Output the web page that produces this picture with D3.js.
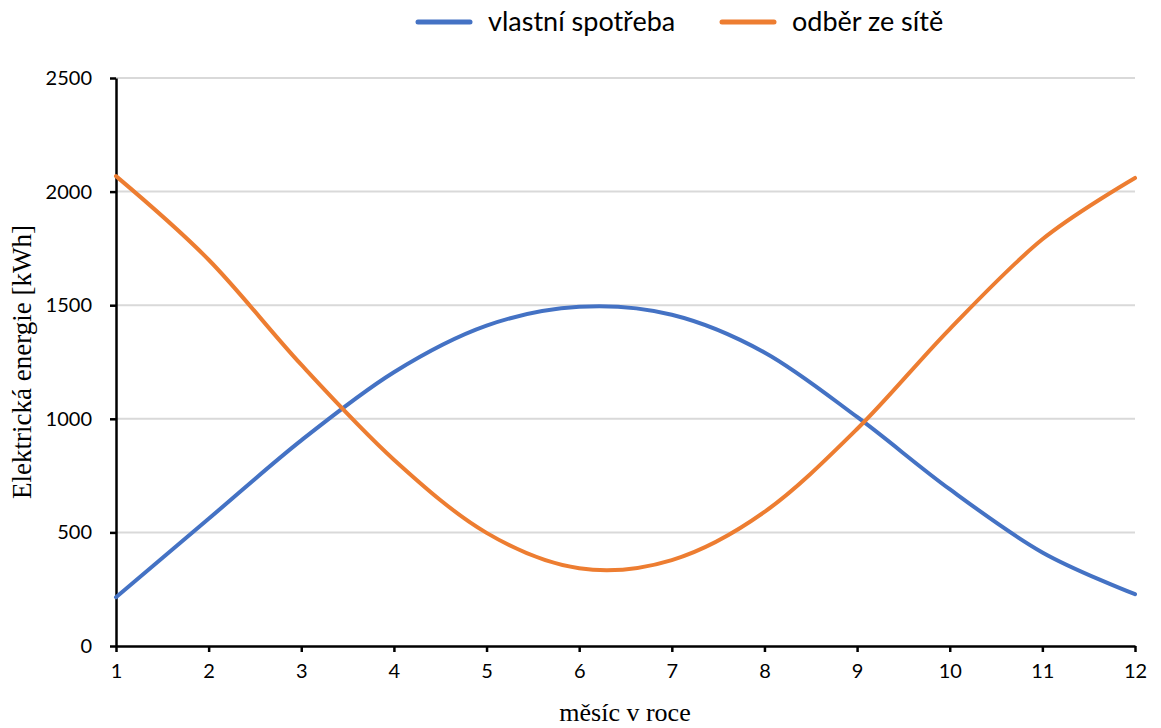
<!DOCTYPE html>
<html>
<head>
<meta charset="utf-8">
<script src="https://cdn.jsdelivr.net/npm/d3@7"></script>
<style>
  html, body { margin: 0; padding: 0; background: #fff; }
  svg { display: block; }
</style>
</head>
<body>
<svg id="chart" width="1161" height="728"></svg>
<script>
// Monthly electricity: own consumption vs. grid draw
const months = [1, 2, 3, 4, 5, 6, 7, 8, 9, 10, 11, 12];
const vlastniSpotreba = [215, 560, 905, 1205, 1410, 1493, 1458, 1292, 1008, 690, 412, 228];
const odberZeSite = [2068, 1700, 1238, 820, 498, 342, 378, 590, 955, 1395, 1790, 2060];
const yTicks = [0, 500, 1000, 1500, 2000, 2500];
const seriesNames = ["vlastní spotřeba", "odběr ze sítě"];
const seriesColors = ["#4472c4", "#ed7d31"];

(function () {
  const svg = d3.select("#chart");
  const plotLeft = 116, plotRight = 1135, plotTop = 78, plotBottom = 646;

  const x = d3.scaleLinear().domain([1, 12]).range([plotLeft, plotRight]);
  const y = d3.scaleLinear().domain([0, 2500]).range([plotBottom, plotTop]);

  const tickFont = "Lato, 'Open Sans', sans-serif";
  const serif = "'Liberation Serif', 'DejaVu Serif', serif";

  // horizontal gridlines
  svg.append("g")
    .selectAll("line")
    .data(yTicks.filter(d => d > 0))
    .join("line")
    .attr("x1", plotLeft).attr("x2", plotRight)
    .attr("y1", d => y(d)).attr("y2", d => y(d))
    .attr("stroke", "#d9d9d9").attr("stroke-width", 2);

  // y axis
  const yAxis = svg.append("g")
    .attr("transform", `translate(${plotLeft},0)`)
    .call(d3.axisLeft(y).tickValues(yTicks).tickFormat(d3.format("d"))
      .tickSize(6).tickPadding(18).tickSizeOuter(0));
  yAxis.select(".domain").attr("stroke", "#000").attr("stroke-width", 2.5);
  yAxis.selectAll(".tick line").attr("stroke", "#000").attr("stroke-width", 2.5);
  yAxis.selectAll(".tick text")
    .attr("font-family", tickFont).attr("font-size", 20).attr("fill", "#000");

  // x axis
  const xAxis = svg.append("g")
    .attr("transform", `translate(0,${plotBottom})`)
    .call(d3.axisBottom(x).tickValues(months).tickFormat(d3.format("d"))
      .tickSize(6).tickPadding(12).tickSizeOuter(0));
  xAxis.select(".domain").attr("stroke", "#000").attr("stroke-width", 2.5);
  xAxis.selectAll(".tick line").attr("stroke", "#000").attr("stroke-width", 2.5);
  xAxis.selectAll(".tick text")
    .attr("font-family", tickFont).attr("font-size", 20).attr("fill", "#000");

  // smoothed series lines
  const line = d3.line()
    .x((d, i) => x(months[i]))
    .y(d => y(d))
    .curve(d3.curveCardinal.tension(0));

  [vlastniSpotreba, odberZeSite].forEach((vals, i) => {
    svg.append("path")
      .datum(vals)
      .attr("d", line)
      .attr("fill", "none")
      .attr("stroke", seriesColors[i])
      .attr("stroke-width", 4)
      .attr("stroke-linecap", "round");
  });

  // legend
  const legendX = [418, 722];
  seriesNames.forEach((name, i) => {
    const g = svg.append("g").attr("transform", `translate(${legendX[i]},22)`);
    g.append("line")
      .attr("x1", 0).attr("x2", 52).attr("y1", 0).attr("y2", 0)
      .attr("stroke", seriesColors[i]).attr("stroke-width", 5).attr("stroke-linecap", "round");
    g.append("text")
      .attr("x", 70).attr("y", 9)
      .attr("font-family", tickFont).attr("font-size", 27).attr("fill", "#000")
      .text(name);
  });

  // axis titles
  svg.append("text")
    .attr("transform", `translate(31,${(plotTop + plotBottom) / 2}) rotate(-90)`)
    .attr("text-anchor", "middle")
    .attr("font-family", serif).attr("font-size", 27).attr("fill", "#000")
    .text("Elektrická energie [kWh]");

  svg.append("text")
    .attr("x", 625).attr("y", 721)
    .attr("text-anchor", "middle")
    .attr("font-family", serif).attr("font-size", 26).attr("fill", "#000")
    .text("měsíc v roce");
})();
</script>
</body>
</html>
